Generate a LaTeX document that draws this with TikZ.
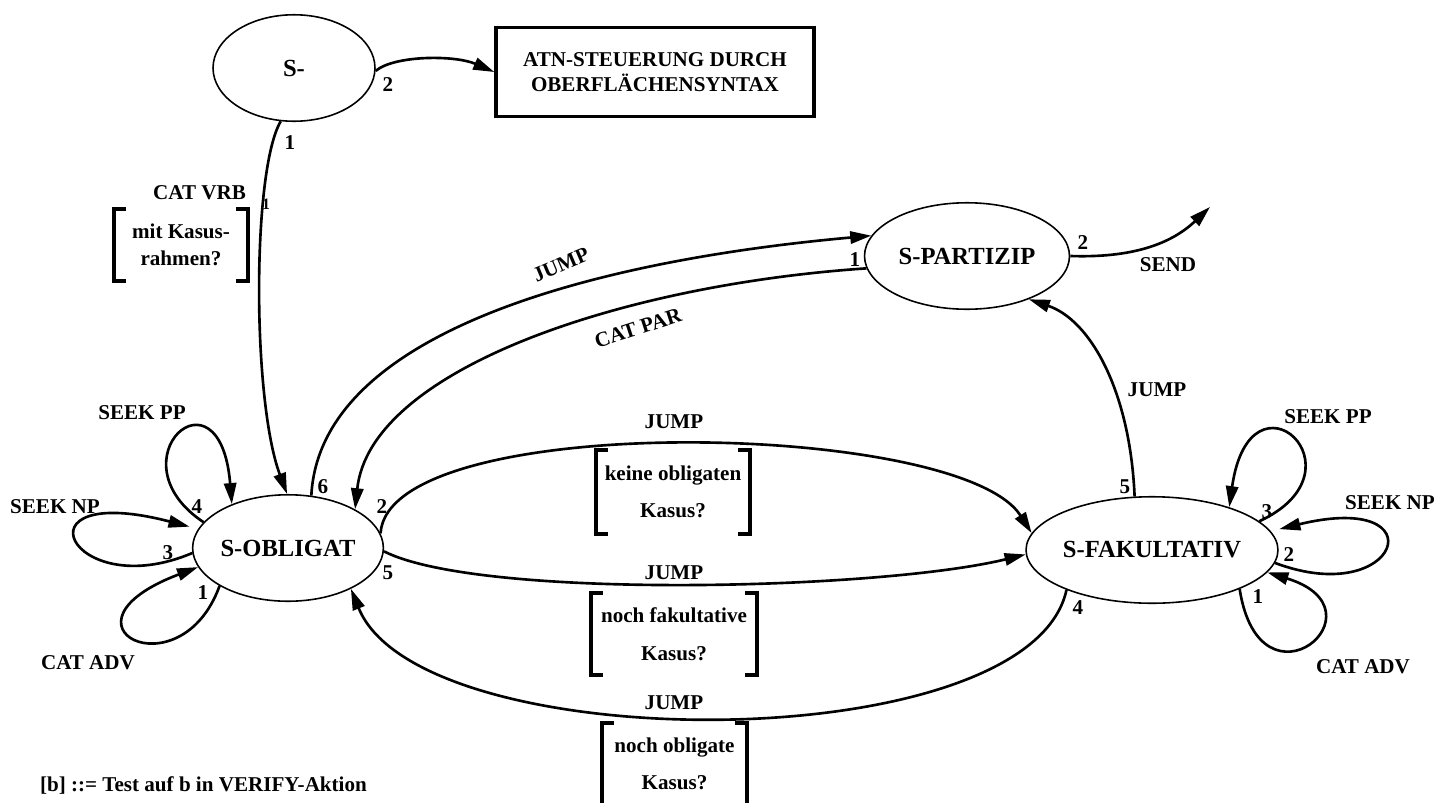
\documentclass[tikz,border=0pt]{standalone}
\usepackage{fontspec}
\setmainfont{Liberation Serif}
\usetikzlibrary{arrows.meta, shapes.geometric, positioning}

\tikzset{
  state/.style={ellipse, draw, line width=0.9pt, inner sep=0pt, minimum height=2.13cm,
    font=\fontsize{14}{16}\selectfont\bfseries},
  arc/.style={line width=1.5pt, -{Triangle[length=12pt,width=7pt]}},
  lbl/.style={font=\fontsize{12}{14}\selectfont\bfseries, inner sep=1pt},
  cond/.style={font=\fontsize{12}{15.4}\selectfont\bfseries, align=center, inner sep=0pt},
  brk/.style={line width=2.2pt},
}
% square brackets round a condition node
\newcommand{\condbrackets}[1]{%
  \draw[brk] (#1.north west) ++(12,0) -- (#1.north west) -- (#1.south west) -- ++(12,0);
  \draw[brk] (#1.north east) ++(-12,0) -- (#1.north east) -- (#1.south east) -- ++(-12,0);}

\begin{document}
\begin{tikzpicture}[x=0.02cm, y=-0.02cm]
    \useasboundingbox (0,0) rectangle (1438,802);

    % states
    \node[state, minimum width=3.24cm] (sroot) at (294,68) {S-};
    \node[state, minimum width=3.8cm] (sobl) at (288,548) {S-OBLIGAT};
    \node[state, minimum width=4.1cm] (spart) at (967,256) {S-PARTIZIP};
    \node[state, minimum width=4.78cm] (sfak) at (1152,550) {S-FAKULTATIV};
    \node[draw, line width=2pt, minimum width=6.36cm, minimum height=1.78cm, align=center,
      font=\fontsize{12}{14.2}\selectfont\bfseries] (atn) at (655,72)
      {ATN-STEUERUNG DURCH\\OBERFLÄCHENSYNTAX};
    \coordinate (send) at (1210,207);

    % arcs from S-
    \draw[arc] (sroot.256) .. controls (252,170) and (252,400) .. (sobl.91);
    \draw[arc] (sroot.-2) .. controls (395,55) and (455,55) .. (atn.west);
    \node[lbl] (n1) at (290,143) {1};
    \node[lbl] (n2) at (388,85) {2};
    \node[lbl, anchor=east] (catvrb) at (248,193) {CAT VRB};
    \node[lbl, font=\fontsize{9}{10}\selectfont\bfseries] (n1b) at (266,204) {1};
    \node[cond, minimum width=2.66cm, minimum height=1.42cm] (kasus) at (181,245)
      {mit Kasus-\\rahmen?};
    \condbrackets{kasus}

    % S-PARTIZIP
    \draw[arc] (sobl.66) .. controls (320,330) and (600,260) .. (spart.168);
    \draw[arc] (spart.187) .. controls (620,285) and (370,370) .. (sobl.30);
    \draw[arc] (spart.east) .. controls (1130,258) and (1170,245) .. (send);
    \draw[arc] (sfak.108) .. controls (1130,390) and (1090,320) .. (spart.-35);
    \node[lbl, rotate=23] (jump1) at (561,265) {JUMP};
    \node[lbl, rotate=18] (catpar) at (638,328) {CAT PAR};
    \node[lbl] (p1) at (855,260) {1};
    \node[lbl] (p2) at (1083,243) {2};
    \node[lbl] (sendlbl) at (1168,265) {SEND};
    \node[lbl] (jump2) at (1157,390) {JUMP};

    % S-OBLIGAT <-> S-FAKULTATIV
    \draw[arc] (sobl.9) .. controls (388,410) and (960,420) .. (sfak.172);
    \draw[arc] (sobl.-2) .. controls (480,600) and (880,590) .. (sfak.182);
    \draw[arc] (sfak.205) .. controls (1030,760) and (420,760) .. (sobl.-33);
    \node[lbl] (jump3) at (674,422) {JUMP};
    \node[lbl] (jump4) at (674,573) {JUMP};
    \node[lbl] (jump5) at (674,703) {JUMP};
    \node[cond, minimum width=3.08cm, minimum height=1.68cm] (keine) at (673,492)
      {keine obligaten\\[6pt]Kasus?};
    \node[cond, minimum width=3.32cm, minimum height=1.64cm] (fakult) at (674,634)
      {noch fakultative\\[6pt]Kasus?};
    \node[cond, minimum width=2.9cm, minimum height=1.64cm] (oblig) at (674.5,764)
      {noch obligate\\[6pt]Kasus?};
    \condbrackets{keine}
    \condbrackets{fakult}
    \condbrackets{oblig}

    % loops on S-OBLIGAT
    \draw[arc] (sobl.163) .. controls (110,460) and (220,360) .. (sobl.142);
    \draw[arc, shorten >=5pt] (sobl.183) .. controls (70,605) and (10,480) .. (sobl.168);
    \draw[arc] (sobl.209) .. controls (180,695) and (45,625) .. (sobl.192);
    \node[lbl] (o6) at (323,487) {6};
    \node[lbl] (o2) at (382,507) {2};
    \node[lbl] (o5) at (388,573) {5};
    \node[lbl] (o4) at (197,507) {4};
    \node[lbl] (o3) at (168,553) {3};
    \node[lbl] (o1) at (203,593) {1};
    \node[lbl] (oseekpp) at (142,413) {SEEK PP};
    \node[lbl] (oseeknp) at (55,507) {SEEK NP};
    \node[lbl] (ocatadv) at (88,663) {CAT ADV};

    % loops on S-FAKULTATIV
    \draw[arc] (sfak.15) .. controls (1370,470) and (1250,360) .. (sfak.29);
    \draw[arc, shorten >=5pt] (sfak.-6) .. controls (1400,610) and (1440,490) .. (sfak.9);
    \draw[arc] (sfak.-24) .. controls (1260,720) and (1390,610) .. (sfak.-11);
    \node[lbl] (f5) at (1125,487) {5};
    \node[lbl] (f3) at (1267,512) {3};
    \node[lbl] (f2) at (1289,555) {2};
    \node[lbl] (f1) at (1258,597) {1};
    \node[lbl] (f4) at (1078,608) {4};
    \node[lbl] (fseekpp) at (1328,417) {SEEK PP};
    \node[lbl] (fseeknp) at (1390,503) {SEEK NP};
    \node[lbl] (fcatadv) at (1363,667) {CAT ADV};

    % legend
    \node[lbl, anchor=west] (legend) at (38,785) {[b] ::= Test auf b in VERIFY-Aktion};
\end{tikzpicture}
\end{document}
